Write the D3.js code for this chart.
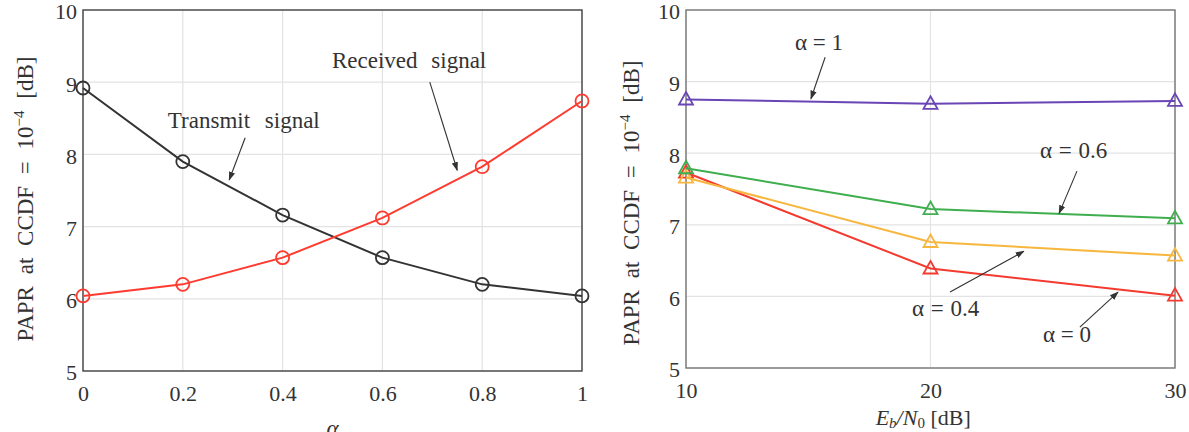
<!DOCTYPE html>
<html>
<head>
  <meta charset="utf-8">
  <script src="https://cdn.jsdelivr.net/npm/d3@7"></script>
  <title>PAPR charts</title>
  <style>
  body { margin: 0; background: #fff; }
  svg { display: block; background: #fff; }
  text { font-family: "Liberation Serif", "Times New Roman", serif; fill: #333; }
  </style>
</head>
<body>
  <div id="chart"></div>
  <script>
  // left panel data
  var alphaValues = [0, 0.2, 0.4, 0.6, 0.8, 1];
  var transmitPapr = [8.92, 7.9, 7.16, 6.57, 6.2, 6.04];
  var receivedPapr = [6.04, 6.2, 6.57, 7.12, 7.83, 8.74];
  var alphaTicks = [0, 0.2, 0.4, 0.6, 0.8, 1];

  // right panel data
  var ebn0Values = [10, 20, 30];
  var paprAlpha1 = [8.75, 8.69, 8.73];
  var paprAlpha06 = [7.79, 7.22, 7.09];
  var paprAlpha04 = [7.66, 6.76, 6.57];
  var paprAlpha0 = [7.73, 6.39, 6.01];
  var ebn0Ticks = [10, 20, 30];

  var paprTicks = [5, 6, 7, 8, 9, 10];

  var width = 1189, height = 432;
  var svg = d3.select("#chart").append("svg").attr("width", width).attr("height", height);

  var defs = svg.append("defs");
  defs.append("marker")
    .attr("id", "arrow")
    .attr("viewBox", "0 0 10 10")
    .attr("refX", 9).attr("refY", 5)
    .attr("markerWidth", 9).attr("markerHeight", 9)
    .attr("markerUnits", "userSpaceOnUse")
    .attr("orient", "auto")
    .append("path").attr("d", "M0,1.5 L10,5 L0,8.5 Z").attr("fill", "#333");

  var triPath = "M0,-7.5 L7,5 L-7,5 Z";

  function panel(opts) {
    var g = svg.append("g");
    var x = d3.scaleLinear().domain(opts.xDomain).range([opts.left, opts.right]);
    var y = d3.scaleLinear().domain([5, 10]).range([opts.bottom, opts.top]);

    // grid
    g.selectAll(".vgrid").data(opts.xTicks).enter().append("line")
      .attr("x1", function(d) { return x(d); }).attr("x2", function(d) { return x(d); })
      .attr("y1", opts.top).attr("y2", opts.bottom)
      .attr("stroke", "#e3e3e3").attr("stroke-width", 1.2);
    g.selectAll(".hgrid").data(paprTicks).enter().append("line")
      .attr("x1", opts.left).attr("x2", opts.right)
      .attr("y1", function(d) { return y(d); }).attr("y2", function(d) { return y(d); })
      .attr("stroke", "#e3e3e3").attr("stroke-width", 1.2);

    // frame
    g.append("rect")
      .attr("x", opts.left).attr("y", opts.top)
      .attr("width", opts.right - opts.left).attr("height", opts.bottom - opts.top)
      .attr("fill", "none").attr("stroke", opts.frame).attr("stroke-width", 1.4);

    // axes (labels only)
    var yAxis = g.append("g").attr("transform", "translate(" + opts.left + ",0)")
      .call(d3.axisLeft(y).tickValues(paprTicks).tickSize(0).tickPadding(6).tickFormat(d3.format("d")));
    var xAxis = g.append("g").attr("transform", "translate(0," + opts.bottom + ")")
      .call(d3.axisBottom(x).tickValues(opts.xTicks).tickSize(0).tickPadding(14).tickFormat(opts.xFormat));
    [yAxis, xAxis].forEach(function(a) {
      a.attr("font-family", null).attr("font-size", null);
      a.select(".domain").remove();
      a.selectAll("text").attr("font-size", 22).attr("fill", "#333");
    });
    yAxis.selectAll("text").attr("dy", "0.4em");

    // y label
    var yl = g.append("text")
      .attr("transform", "translate(" + opts.yLabelX + "," + opts.yLabelY + ") rotate(-90)")
      .attr("text-anchor", "middle").attr("font-size", 23);
    yl.append("tspan").attr("word-spacing", 6).text("PAPR at CCDF = 10");
    yl.append("tspan").attr("dy", -9).attr("font-size", 15).text("\u22124");
    yl.append("tspan").attr("dy", 9).attr("word-spacing", 6).text(" [dB]");

    return { g: g, x: x, y: y };
  }

  function series(p, xs, ys, color, shape) {
    var line = d3.line().x(function(d, i) { return p.x(xs[i]); }).y(function(d) { return p.y(d); });
    p.g.append("path").datum(ys).attr("d", line)
      .attr("fill", "none").attr("stroke", color).attr("stroke-width", 2);
    var pts = ys.map(function(v, i) { return { x: xs[i], y: v }; });
    if (shape === "circle") {
      p.g.selectAll(null).data(pts).enter().append("circle")
        .attr("cx", function(d) { return p.x(d.x); }).attr("cy", function(d) { return p.y(d.y); })
        .attr("r", 6.5).attr("fill", "none").attr("stroke", color).attr("stroke-width", 1.8);
    } else {
      p.g.selectAll(null).data(pts).enter().append("path")
        .attr("d", triPath)
        .attr("transform", function(d) { return "translate(" + p.x(d.x) + "," + p.y(d.y) + ")"; })
        .attr("fill", "none").attr("stroke", color).attr("stroke-width", 1.8);
    }
  }

  function note(p, label, tx, ty, ax1, ay1, ax2, ay2, wsp) {
    p.g.append("text").attr("x", p.x(tx)).attr("y", p.y(ty))
      .attr("font-size", 23).attr("word-spacing", wsp).text(label);
    p.g.append("line")
      .attr("x1", p.x(ax1)).attr("y1", p.y(ay1))
      .attr("x2", p.x(ax2)).attr("y2", p.y(ay2))
      .attr("stroke", "#333").attr("stroke-width", 1.1)
      .attr("marker-end", "url(#arrow)");
  }

  // ---- left panel ----
  var left = panel({
    left: 83, right: 582, top: 10, bottom: 371,
    xDomain: [0, 1], xTicks: alphaTicks, xFormat: d3.format("~g"),
    frame: "#444", yLabelX: 33, yLabelY: 199
  });
  series(left, alphaValues, transmitPapr, "#333333", "circle");
  series(left, alphaValues, receivedPapr, "#ff3b30", "circle");
  note(left, "Transmit signal", 0.17, 8.37, 0.325, 8.23, 0.293, 7.645, 9);
  note(left, "Received signal", 0.499, 9.2, 0.695, 9.0, 0.75, 7.78, 8);
  left.g.append("text").attr("x", left.x(0.5)).attr("y", 436)
    .attr("text-anchor", "middle").attr("font-size", 23).attr("font-style", "italic").text("\u03b1");

  // ---- right panel ----
  var right = panel({
    left: 686, right: 1175, top: 10, bottom: 368,
    xDomain: [10, 30], xTicks: ebn0Ticks, xFormat: d3.format("d"),
    frame: "#777", yLabelX: 639, yLabelY: 203
  });
  series(right, ebn0Values, paprAlpha0, "#f43a2f", "tri");
  series(right, ebn0Values, paprAlpha04, "#f7b73f", "tri");
  series(right, ebn0Values, paprAlpha06, "#3fae4f", "tri");
  series(right, ebn0Values, paprAlpha1, "#6a45b5", "tri");
  note(right, "\u03b1 = 1", 14.46, 9.44, 15.69, 9.34, 15.11, 8.76, 0);
  note(right, "\u03b1 = 0.6", 24.48, 7.93, 25.99, 7.75, 25.26, 7.16, 1);
  note(right, "\u03b1 = 0.4", 19.24, 5.73, 20.8, 6.06, 23.82, 6.63, 1);
  note(right, "\u03b1 = 0", 24.6, 5.36, 26.11, 5.57, 27.67, 6.06, 0);

  var xl = right.g.append("text").attr("x", right.x(19.7)).attr("y", 425)
    .attr("text-anchor", "middle").attr("font-size", 22);
  xl.append("tspan").attr("font-style", "italic").text("E");
  xl.append("tspan").attr("font-style", "italic").attr("font-size", 15).attr("dy", 3).text("b");
  xl.append("tspan").attr("font-style", "italic").attr("dy", -3).text("/N");
  xl.append("tspan").attr("font-size", 15).attr("dy", 3).text("0");
  xl.append("tspan").attr("dy", -3).text(" [dB]");
  </script>
</body>
</html>
